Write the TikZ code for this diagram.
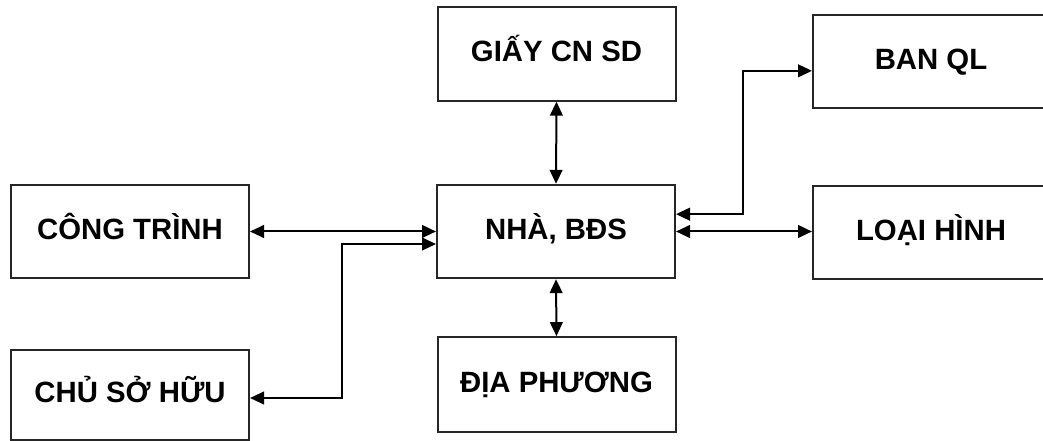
\documentclass[tikz,border=0pt]{standalone}
\usepackage{fontspec}
\setmainfont{Liberation Sans}
\usetikzlibrary{arrows.meta}
\begin{document}
\begin{tikzpicture}[x=0.75pt,y=-0.75pt,
  box/.style={draw=black!85,line width=1.5pt,rectangle,inner sep=0pt,
    minimum width=178.5pt,minimum height=70pt,
    text height=15.8pt,text depth=4.5pt,
    font=\bfseries\fontsize{22}{26}\selectfont,text=black},
  conn/.style={line width=1.5pt,{Triangle[length=10.5pt,width=9.5pt]}-{Triangle[length=10.5pt,width=9.5pt]}}]
\useasboundingbox (0,0) rectangle (1043,441);
\clip (0,0) rectangle (1043,441);
\node[box] (GIAY) at (556.5,54) {GIẤY CN SD};
\node[box,minimum width=177pt] (BAN) at (931,61.5) {BAN QL};
\node[box] (CONG) at (130,231.5) {CÔNG TRÌNH};
\node[box] (NHA) at (556,231.5) {NHÀ, BĐS};
\node[box,minimum width=177pt] (LOAI) at (931,232.5) {LOẠI HÌNH};
\node[box,minimum height=67.5pt] (CHU) at (130,395) {CHỦ SỞ HỮU};
\node[box,minimum height=71pt] (DIA) at (556.5,384.5) {ĐỊA PHƯƠNG};
\coordinate (bendL) at (342,0);
\coordinate (bendR) at (743,0);
\coordinate (nw2) at ([yshift=-9.4pt]NHA.west);
\coordinate (ne1) at ([yshift=13pt]NHA.east);
\coordinate (chuE) at ([yshift=-2.25pt]CHU.east);
\coordinate (banW) at ([yshift=-7pt]BAN.west);
\draw[conn] (GIAY.south) -- (NHA.north);
\draw[conn] (NHA.south) -- (DIA.north);
\draw[conn] (CONG.east) -- (NHA.west);
\draw[conn] (chuE) -- (chuE -| bendL) -- (bendL |- nw2) -- (nw2);
\draw[conn] (ne1) -- (ne1 -| bendR) -- (bendR |- banW) -- (banW);
\draw[conn] (NHA.east) -- (NHA.east -| LOAI.west);
\end{tikzpicture}
\end{document}
